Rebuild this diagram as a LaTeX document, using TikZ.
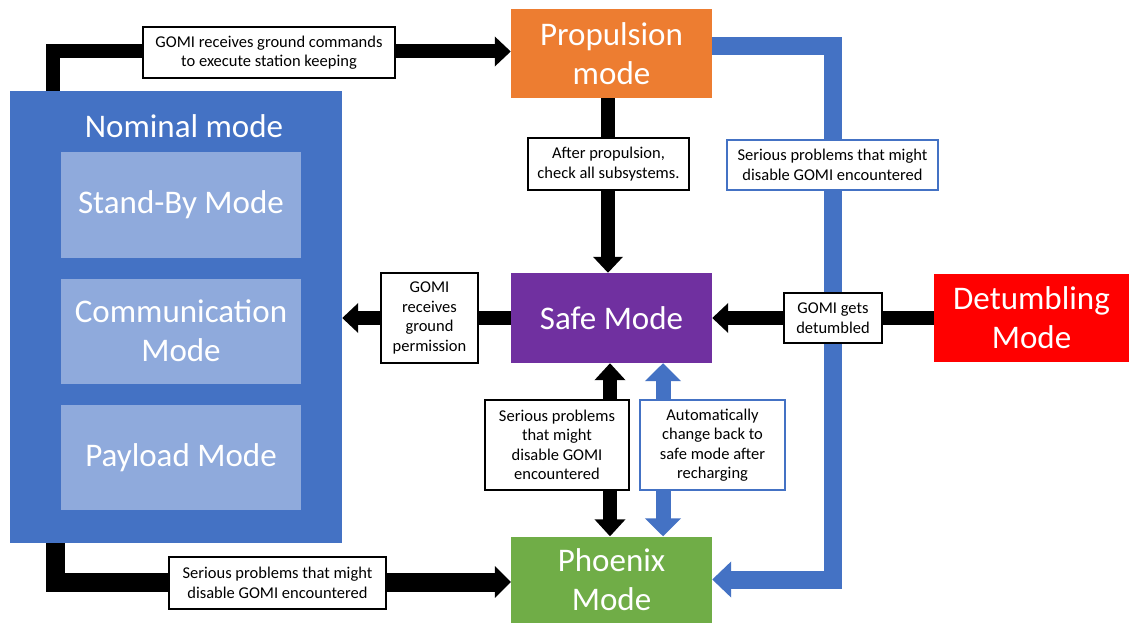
\documentclass[tikz,border=0pt]{standalone}
\usepackage{fontspec}
\setmainfont{Carlito}
\usetikzlibrary{arrows.meta}
\definecolor{cblue}{HTML}{4472C4}
\definecolor{clight}{HTML}{8FAADC}
\definecolor{corange}{HTML}{ED7D31}
\definecolor{cpurple}{HTML}{7030A0}
\definecolor{cgreen}{HTML}{70AD47}
\definecolor{cred}{HTML}{FF0000}
\begin{document}
\begin{tikzpicture}[x=1pt,y=-1pt,
  mode/.style={draw=none, inner sep=0pt, text=white, align=center, font=\fontsize{33}{39}\selectfont},
  lab/.style={draw=black, line width=2pt, fill=white, inner sep=0pt, align=center, font=\fontsize{16.5}{19.5}\selectfont},
  blab/.style={lab, draw=cblue},
  blk/.style={draw=black, line width=14pt, -{Triangle[length=16pt,width=29pt]}},
  blkw/.style={draw=black, line width=19pt, -{Triangle[length=16pt,width=31pt]}},
  blkd/.style={draw=black, line width=14pt, {Triangle[length=17pt,width=30pt]}-{Triangle[length=17pt,width=30pt]}},
  blu/.style={draw=cblue, line width=18pt, -{Triangle[length=19pt,width=35pt]}},
  blud/.style={draw=cblue, line width=15pt, {Triangle[length=18pt,width=35pt]}-{Triangle[length=18pt,width=35pt]}},
]
\useasboundingbox (0,0) rectangle (1129,623);
\fill[white] (0,0) rectangle (1129,623);

% main boxes
\node[mode, fill=cblue, minimum width=332pt, minimum height=452pt] (nom) at (176,317) {};
\node[mode] (nomt) at (184,126) {Nominal mode};
\node[mode, fill=clight, minimum width=240pt, minimum height=106pt] (stb) at (181,205) {Stand-By Mode};
\node[mode, fill=clight, minimum width=240pt, minimum height=105pt] (com) at (181,331) {Communication\\Mode};
\node[mode, fill=clight, minimum width=240pt, minimum height=105pt] (pay) at (181,457.5) {Payload Mode};
\node[mode, fill=corange, minimum width=201pt, minimum height=89pt] (prop) at (611.5,53.5) {Propulsion\\mode};
\node[mode, fill=cpurple, minimum width=201pt, minimum height=90pt] (safe) at (611.5,318) {Safe Mode};
\node[mode, fill=cgreen, minimum width=201pt, minimum height=87pt] (phoen) at (611.5,580) {Phoenix\\Mode};
\node[mode, fill=cred, minimum width=195pt, minimum height=88pt] (det) at (1031.5,318) {Detumbling\\Mode};

% connectors
\coordinate (bcorner) at (832.5,579.5);
\draw[blu] ([yshift=7.5pt]prop.east) -| (bcorner) -- (phoen.east |- bcorner);
\draw[blk] ([xshift=43pt]nom.north west) |- ([yshift=2pt]prop.west);
\draw[blk] ([xshift=-3.5pt]prop.south) -- ([xshift=-3.5pt]safe.north);
\draw[blk] (safe.west) -- (nom.east |- safe.west);
\draw[blk] (det.west) -- (safe.east);
\draw[blkd] ([xshift=-1.5pt]safe.south) -- ([xshift=-1.5pt]phoen.north);
\draw[blud] ([xshift=51.5pt]safe.south) -- ([xshift=51.5pt]phoen.north);
\draw[blkw] ([xshift=45.5pt]nom.south west) |- ([yshift=-2pt]phoen.west);

% labels
\node[lab, minimum width=252pt, minimum height=51pt] (l1) at (269,52.5) {GOMI receives ground commands\\to execute station keeping};
\node[lab, minimum width=161pt, minimum height=52pt] (l2) at (608.5,164) {After propulsion,\\check all subsystems.};
\node[blab, minimum width=211pt, minimum height=50pt] (l3) at (832.5,165) {Serious problems that might\\disable GOMI encountered};
\node[lab, minimum width=97pt, minimum height=90pt] (l4) at (429.5,318) {GOMI\\receives\\ground\\permission};
\node[lab, minimum width=98pt, minimum height=50pt] (l5) at (833,318) {GOMI gets\\detumbled};
\node[lab, minimum width=144pt, minimum height=90pt] (l6) at (557,445) {Serious problems\\that might\\disable GOMI\\encountered};
\node[blab, minimum width=145pt, minimum height=90pt] (l7) at (712.5,445) {Automatically\\change back to\\safe mode after\\recharging};
\node[lab, minimum width=217pt, minimum height=52pt] (l8) at (277.5,583) {Serious problems that might\\disable GOMI encountered};
\end{tikzpicture}
\end{document}
